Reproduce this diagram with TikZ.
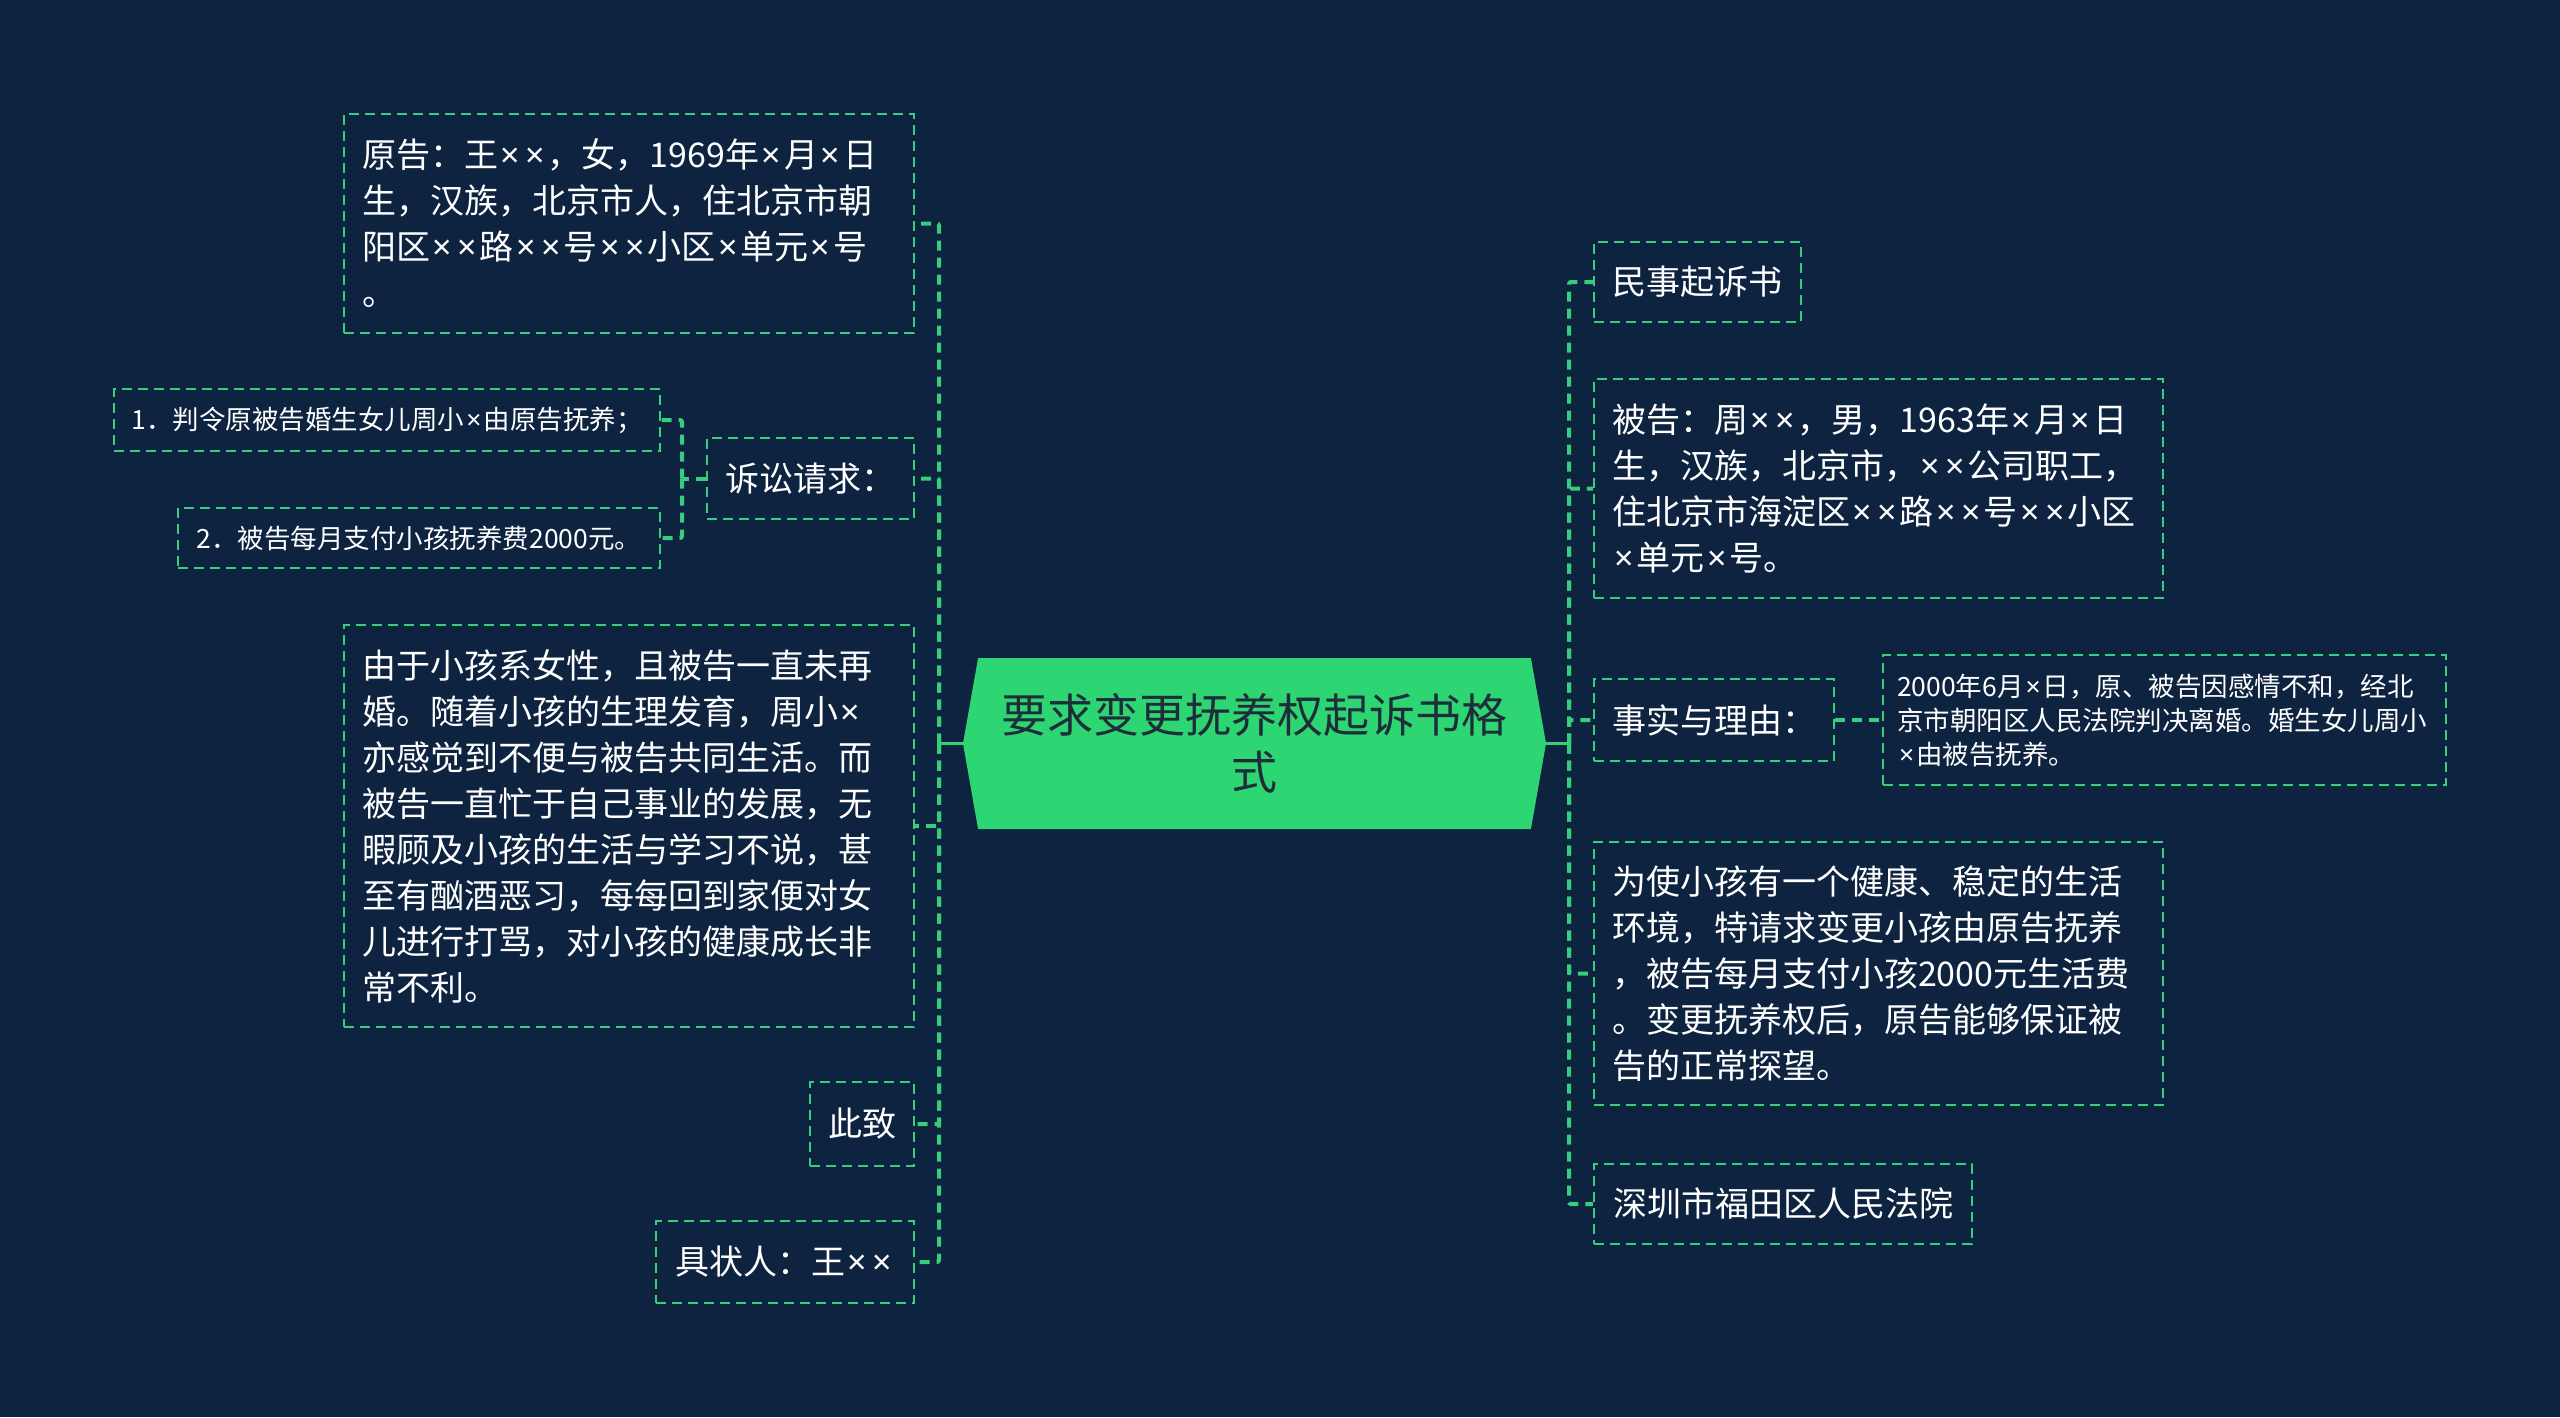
\documentclass[tikz,border=0pt]{standalone}
\usepackage{fontspec}
\setmainfont{Noto Sans CJK SC}
\newfontfamily\mmlatin{Noto Sans}
\newcommand\mx{{\mmlatin\hspace{0.08em}×\hspace{0.08em}}}
\usepackage{xcolor}
\usepackage{tikz}
\usetikzlibrary{shapes.symbols,calc}
\definecolor{mmbg}{HTML}{0D2340}
\definecolor{mmgreen}{HTML}{2ED573}
\definecolor{mmline}{HTML}{36CD7B}
\definecolor{mmdark}{HTML}{1E2D3A}
\tikzset{
  mm root/.style={
    signal,
    signal to=west and east,
    signal pointer angle=160,
    fill=mmgreen,
    draw=none,
    minimum width=583pt,
    minimum height=171pt,
    text=mmdark,
    align=center,
    font=\fontsize{46}{57}\selectfont,
  },
  mm topic/.style={
    rectangle,
    draw=mmline,
    line width=2.5pt,
    dash pattern=on 10pt off 6pt,
    text=white,
    align=left,
    inner xsep=18pt,
    inner ysep=0pt,
    font=\fontsize{34}{46}\selectfont,
  },
  mm leaf/.style={mm topic, inner xsep=14pt, font=\fontsize{26.5}{34}\selectfont},
  mm link/.style={draw=mmline, line width=4pt, dash pattern=on 10pt off 7pt, rounded corners=2pt},
  mm trunk/.style={draw=mmgreen, line width=3pt},
}

\begin{document}
\begin{tikzpicture}[x=1pt,y=-1pt]
  \useasboundingbox[fill=mmbg] (0,0) rectangle (2560,1417);

  \node[mm root] (root) at (1254.5,743.5) {要求变更抚养权起诉书格\\式};

  \node[mm topic, minimum height=219pt, text width=534pt] (plaintiff) at (629,223.5)
    {原告：王\mx\mx，女，1969年\mx 月\mx 日\\生，汉族，北京市人，住北京市朝\\阳区\mx\mx 路\mx\mx 号\mx\mx 小区\mx 单元\mx 号\\。};
  \node[mm topic, minimum width=207pt, minimum height=81pt] (claim) at (810.5,478.5) {诉讼请求：};
  \node[mm leaf, minimum width=546pt, minimum height=62pt] (claimA) at (387,420)
    {1．判令原被告婚生女儿周小\mx 由原告抚养；};
  \node[mm leaf, minimum width=482pt, minimum height=60pt] (claimB) at (419,538)
    {2．被告每月支付小孩抚养费2000元。};
  \node[mm topic, minimum height=402pt, text width=534pt] (reason) at (629,826)
    {由于小孩系女性，且被告一直未再\\婚。随着小孩的生理发育，周小\mx\\亦感觉到不便与被告共同生活。而\\被告一直忙于自己事业的发展，无\\暇顾及小孩的生活与学习不说，甚\\至有酗酒恶习，每每回到家便对女\\儿进行打骂，对小孩的健康成长非\\常不利。};
  \node[mm topic, minimum width=104pt, minimum height=84pt] (regards) at (862,1124) {此致};
  \node[mm topic, minimum width=258pt, minimum height=82pt] (signer) at (785,1262) {具状人：王\mx\mx};

  \node[mm topic, minimum width=207pt, minimum height=80pt] (title) at (1697.5,282) {民事起诉书};
  \node[mm topic, minimum height=219pt, text width=533pt] (defendant) at (1878.5,488.5)
    {被告：周\mx\mx，男，1963年\mx 月\mx 日\\生，汉族，北京市，\mx\mx 公司职工，\\住北京市海淀区\mx\mx 路\mx\mx 号\mx\mx 小区\\\mx 单元\mx 号。};
  \node[mm topic, minimum width=240pt, minimum height=82pt] (facts) at (1714,720) {事实与理由：};
  \node[mm leaf, minimum height=130pt, text width=535pt] (factsA) at (2164.5,720)
    {2000年6月\mx 日，原、被告因感情不和，经北\\京市朝阳区人民法院判决离婚。婚生女儿周小\\\mx 由被告抚养。};
  \node[mm topic, minimum height=263pt, text width=533pt] (request) at (1878.5,973.5)
    {为使小孩有一个健康、稳定的生活\\环境，特请求变更小孩由原告抚养\\，被告每月支付小孩2000元生活费\\。变更抚养权后，原告能够保证被\\告的正常探望。};
  \node[mm topic, minimum width=378pt, minimum height=80pt] (court) at (1783,1204) {深圳市福田区人民法院};

  \coordinate (ltrunk) at (939,743.5);
  \coordinate (rtrunk) at (1569,743.5);
  \coordinate (ctrunk) at (682,478.5);

  \draw[mm trunk] (root.west) -- (ltrunk);
  \draw[mm trunk] (root.east) -- (rtrunk);

  \foreach \n in {plaintiff,claim,reason,regards,signer}
    \draw[mm link] (ltrunk) |- (\n.east);
  \foreach \n in {title,defendant,facts,request,court}
    \draw[mm link] (rtrunk) |- (\n.west);

  \draw[mm link] (claim.west) -- (ctrunk);
  \draw[mm link] (ctrunk) |- (claimA.east);
  \draw[mm link] (ctrunk) |- (claimB.east);
  \draw[mm link] (facts.east) -- (factsA.west);
\end{tikzpicture}
\end{document}
